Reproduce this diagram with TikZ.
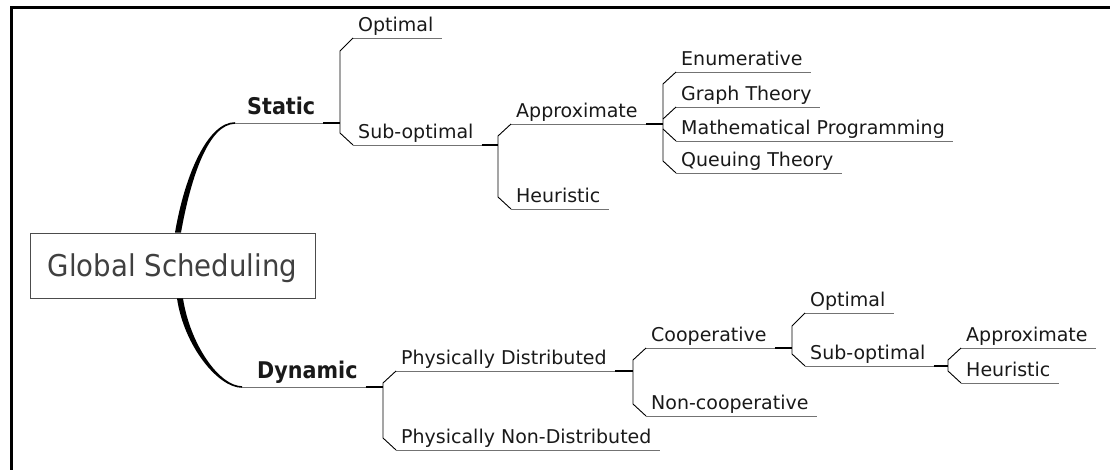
\documentclass[tikz,border=0pt]{standalone}
\usepackage{fontspec}
\setmainfont{DejaVu Sans}
\newfontfamily\branchfont[FakeStretch=0.9]{DejaVu Sans}
\newfontfamily\rootfont[FakeStretch=0.92]{DejaVu Sans}
\begin{document}
\begin{tikzpicture}[x=1pt, y=-1pt,
    topic/.style={anchor=south west, inner xsep=5pt, inner ysep=0pt, text depth=6.5pt,
      font=\fontsize{19}{22}\selectfont, text=black!90},
    mainbranch/.style={topic, text depth=8.5pt, font=\branchfont\fontsize{23}{26}\selectfont\bfseries},
    root/.style={draw=black!70, fill=white, line width=0.8pt, inner sep=0pt,
      minimum width=285pt, minimum height=65pt, text height=22pt, text depth=0pt,
      font=\rootfont\fontsize{30}{32}\selectfont, text=black!75},
    uline/.style={draw=black!55, line width=0.9pt},
    stub/.style={draw=black, line width=1.8pt},
    fork/.style={draw=black, line width=0.9pt},
    limb/.style={fill=black}]
    \useasboundingbox (0,0) rectangle (1110,470);

    % frame
    \draw[line width=3pt] (11.5,470) -- (11.5,7.2) -- (1110,7.2);

    % junctions
    \coordinate (cStat) at (235,123);
    \coordinate (jStat) at (340,123);
    \coordinate (jSubA) at (498,145);
    \coordinate (jApxA) at (663,124);
    \coordinate (cDyn) at (242,387);
    \coordinate (jDyn) at (383,387);
    \coordinate (jPdi) at (633,371);
    \coordinate (jCoo) at (792,348);
    \coordinate (jSubB) at (948,366);

    \node[root] (gs) at (172.5,265.5) {Global Scheduling};

    \node[mainbranch] (stat) at (242,123) {Static};
    \node[topic] (optA) at (353,38) {Optimal};
    \node[topic] (subA) at (353,145) {Sub-optimal};
    \node[topic] (apxA) at (511,124) {Approximate};
    \node[topic] (heuA) at (511,209) {Heuristic};
    \node[topic] (enu) at (676,72) {Enumerative};
    \node[topic] (gra) at (676,107) {Graph Theory};
    \node[topic] (mat) at (676,141) {Mathematical Programming};
    \node[topic] (que) at (676,173) {Queuing Theory};

    \node[mainbranch] (dyn) at (252,387) {Dynamic};
    \node[topic] (pdi) at (396,371) {Physically Distributed};
    \node[topic] (pnd) at (396,450) {Physically Non-Distributed};
    \node[topic] (coo) at (646,348) {Cooperative};
    \node[topic] (nco) at (646,416) {Non-cooperative};
    \node[topic] (optB) at (805,313) {Optimal};
    \node[topic] (subB) at (805,366) {Sub-optimal};
    \node[topic] (apxB) at (961,348) {Approximate};
    \node[topic] (heuB) at (961,383) {Heuristic};

    % tapered limbs from the root
    \fill[limb] ([xshift=2.5pt]gs.north) .. controls (185,174) and (208,122.2) .. (235,122.2)
      -- (235,123.8) .. controls (209,124) and (191,176) .. ([xshift=8.5pt]gs.north) -- cycle;
    \fill[limb] ([xshift=4.5pt]gs.south) .. controls (184,346) and (218,387.8) .. (242,387.8)
      -- (242,386.2) .. controls (219,386) and (190,344) .. ([xshift=10.5pt]gs.south) -- cycle;

    % underlines
    \foreach \n in {optA,subA,apxA,heuA,enu,gra,mat,que,pdi,pnd,coo,nco,optB,subB,apxB,heuB}
      \draw[uline] (\n.south west) -- ([xshift=3pt]\n.south east);
    \draw[uline] (cStat) -- ([xshift=3pt]stat.south east);
    \draw[uline] (cDyn) -- ([xshift=3pt]dyn.south east);

    % stubs into the forks
    \foreach \p/\j in {stat/jStat, subA/jSubA, apxA/jApxA, dyn/jDyn, pdi/jPdi, coo/jCoo, subB/jSubB}
      \draw[stub] ([xshift=3pt]\p.south east) -- (\j);

    % forks
    \draw[fork] (optA.south west) -- ++(-13,13) -- ([shift={(-13,-12)}]subA.south west) -- (subA.south west);
    \draw[fork] (apxA.south west) -- ++(-13,12) -- ([shift={(-13,-12)}]heuA.south west) -- (heuA.south west);
    \draw[fork] (enu.south west) -- ++(-13,12) -- ([shift={(-13,-12)}]que.south west) -- (que.south west);
    \draw[fork] (gra.south west) -- ++(-13,12);
    \draw[fork] (mat.south west) -- ++(-13,-12);
    \draw[fork] (pdi.south west) -- ++(-13,12) -- ([shift={(-13,-12)}]pnd.south west) -- (pnd.south west);
    \draw[fork] (coo.south west) -- ++(-13,12) -- ([shift={(-13,-12)}]nco.south west) -- (nco.south west);
    \draw[fork] (optB.south west) -- ++(-13,13) -- ([shift={(-13,-12)}]subB.south west) -- (subB.south west);
    \draw[fork] (apxB.south west) -- ++(-13,12) -- ([shift={(-13,-12)}]heuB.south west) -- (heuB.south west);
\end{tikzpicture}
\end{document}
